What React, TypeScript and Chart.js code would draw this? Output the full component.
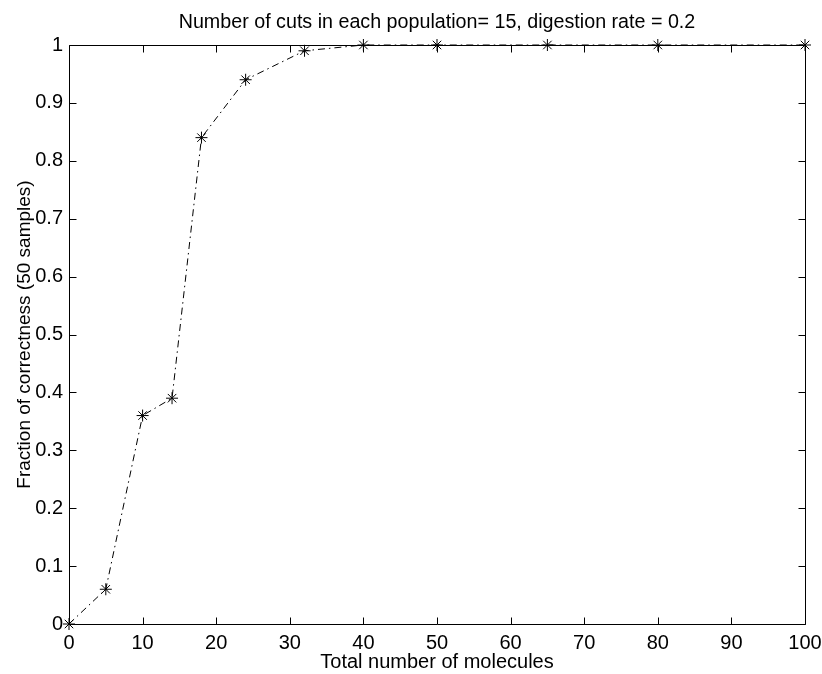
import React, { useEffect, useRef } from "react";
import { Chart, registerables } from "chart.js";

Chart.register(...registerables);

const xValues = [0, 5, 10, 14, 18, 24, 32, 40, 50, 65, 80, 100];
const yValues = [0, 0.06, 0.36, 0.39, 0.84, 0.94, 0.99, 1, 1, 1, 1, 1];
const xTicks = [0, 10, 20, 30, 40, 50, 60, 70, 80, 90, 100];
const yTicks = [0, 0.1, 0.2, 0.3, 0.4, 0.5, 0.6, 0.7, 0.8, 0.9, 1];
const titleText = "Number of cuts in each population= 15, digestion rate = 0.2";
const xLabel = "Total number of molecules";
const yLabel = "Fraction of correctness (50 samples)";

const FONT = "'Liberation Sans', Arial, Helvetica, sans-serif";
const FSIZE = 20;

const framePlugin = {
  id: "matlabFrame",
  afterDraw(chart: any) {
    const { ctx, chartArea } = chart;
    const { left, right, top, bottom } = chartArea;
    const xs = chart.scales.x;
    const ys = chart.scales.y;
    const L = Math.round(left) + 0.5;
    const R = Math.round(right) + 0.5;
    const T = Math.round(top) + 0.5;
    const B = Math.round(bottom) + 0.5;
    const tl = 7;
    ctx.save();
    ctx.strokeStyle = "#000";
    ctx.lineWidth = 1;
    ctx.beginPath();
    ctx.rect(L, T, R - L, B - T);
    for (const v of xTicks) {
      const px = Math.round(xs.getPixelForValue(v)) + 0.5;
      ctx.moveTo(px, B);
      ctx.lineTo(px, B - tl);
      ctx.moveTo(px, T);
      ctx.lineTo(px, T + tl);
    }
    for (const v of yTicks) {
      const py = Math.round(ys.getPixelForValue(v)) + 0.5;
      ctx.moveTo(L, py);
      ctx.lineTo(L + tl, py);
      ctx.moveTo(R, py);
      ctx.lineTo(R - tl, py);
    }
    ctx.stroke();
    ctx.fillStyle = "#000";
    ctx.font = `19.7px ${FONT}`;
    ctx.textAlign = "center";
    ctx.textBaseline = "middle";
    ctx.fillText(titleText, (left + right) / 2, 23);
    ctx.restore();
  },
};

export default function App() {
  const ref = useRef<HTMLCanvasElement | null>(null);
  useEffect(() => {
    document.body.style.margin = "0";
    const canvas = ref.current!;
    const chart = new Chart(canvas, {
      type: "line",
      data: {
        datasets: [
          {
            data: xValues.map((x, i) => ({ x, y: yValues[i] })),
            borderColor: "#000",
            borderWidth: 1,
            borderDash: [7, 4, 1.5, 4],
            pointStyle: "star",
            pointRadius: 6,
            pointBorderWidth: 1,
            pointBorderColor: "#000",
            pointBackgroundColor: "#000",
            fill: false,
            tension: 0,
            clip: false,
          },
        ],
      },
      options: {
        responsive: false,
        animation: false,
        devicePixelRatio: 1,
        layout: { padding: { top: 45, right: 17, left: 0, bottom: 0 } },
        plugins: {
          legend: { display: false },
          tooltip: { enabled: false },
          title: { display: false },
        },
        scales: {
          x: {
            type: "linear",
            min: 0,
            max: 100,
            afterBuildTicks: (s: any) => {
              s.ticks = xTicks.map((v) => ({ value: v }));
            },
            afterFit: (s: any) => {
              s.height = 50;
              s.paddingLeft = 0;
              s.paddingRight = 0;
            },
            grid: { display: false, drawTicks: false },
            border: { display: false },
            ticks: {
              color: "#000",
              font: { family: FONT, size: FSIZE },
              padding: 7,
              maxRotation: 0,
              autoSkip: false,
              callback: (v: any) => String(v),
            },
            title: {
              display: true,
              text: xLabel,
              color: "#000",
              font: { family: FONT, size: FSIZE },
              padding: { top: 0, bottom: 0 },
            },
          },
          y: {
            type: "linear",
            min: 0,
            max: 1,
            afterBuildTicks: (s: any) => {
              s.ticks = yTicks.map((v) => ({ value: v }));
            },
            afterFit: (s: any) => {
              s.width = 69;
              s.paddingTop = 0;
              s.paddingBottom = 0;
            },
            grid: { display: false, drawTicks: false },
            border: { display: false },
            ticks: {
              color: "#000",
              font: { family: FONT, size: FSIZE },
              padding: 6,
              autoSkip: false,
              callback: (v: any) => String(Math.round(Number(v) * 10) / 10),
            },
            title: {
              display: true,
              text: yLabel,
              color: "#000",
              font: { family: FONT, size: 19 },
              padding: { top: 13, bottom: 0 },
            },
          },
        },
      },
      plugins: [framePlugin],
    });
    return () => chart.destroy();
  }, []);
  return (
    <div style={{ position: "absolute", left: 0, top: 0, width: 822, height: 674, background: "#fff" }}>
      <canvas ref={ref} width={822} height={674} style={{ display: "block" }} />
    </div>
  );
}
